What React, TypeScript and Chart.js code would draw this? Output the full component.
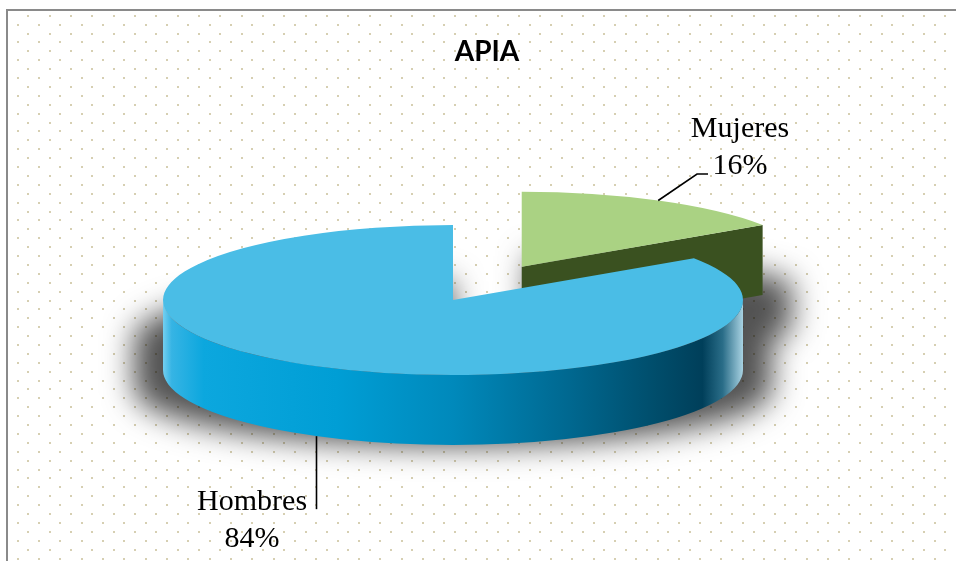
import { useEffect, useRef } from 'react';
import { Chart, registerables, PieController } from 'chart.js';

// ---- data ----
const categories = ['Mujeres', 'Hombres'];
const values = [15.6, 84.4];
const chartTitle = 'APIA';

// ---- styles ----
const topColors = ['#aad283', '#4abde6'];
const faceColors = ['#3a5120', '#00577a'];
const bandStops: [number, string][][] = [
  [[0, '#5b7a35'], [1, '#2e421a']],
  [
    [0, '#74cff0'], [0.015, '#36b4e4'], [0.07, '#0ca7de'], [0.3, '#009ed5'],
    [0.5, '#0089bb'], [0.7, '#006890'], [0.85, '#004d6b'], [0.93, '#003f5a'],
    [0.965, '#2a6d88'], [1, '#a8d2e2'],
  ],
];
const explode = [146, 0];
const SQUASH = 75 / 290;
const DEPTH = 70;

Chart.register(...registerables);

function getGeometry(chart: any) {
  const meta = chart.getDatasetMeta(0);
  const arcs = meta.data || [];
  return arcs.map((el: any, i: number) => {
    const a0 = el.startAngle, a1 = el.endAngle, mid = (a0 + a1) / 2;
    const rx = el.outerRadius, ry = rx * SQUASH;
    const e = explode[i] || 0;
    return {
      el, i, a0, a1, mid, rx, ry, cx: el.x, cy: el.y,
      ox: el.x + e * Math.cos(mid), oy: el.y + e * SQUASH * Math.sin(mid),
    };
  });
}

class Pie3DController extends PieController {
  static id = 'pie3d';
  draw() {
    const chart: any = this.chart;
    const ctx: CanvasRenderingContext2D = chart.ctx;
    const geo = getGeometry(chart);
    if (!geo.length) return;
    const c0 = geo[0];

    // soft shadow of the whole body
    ctx.save();
    const FAR = 4000;
    const anchorY = c0.cy + c0.ry + DEPTH + 5;
    ctx.translate(FAR, 0);
    ctx.translate(c0.cx, anchorY);
    ctx.scale(1.1, 0.75);
    ctx.translate(-c0.cx, -anchorY);
    ctx.beginPath();
    for (const g of geo) {
      for (let d = 0; d <= DEPTH; d += 2) {
        ctx.moveTo(g.ox, g.oy + d);
        ctx.ellipse(g.ox, g.oy + d, g.rx, g.ry, 0, g.a0, g.a1, false);
        ctx.closePath();
      }
    }
    ctx.shadowColor = 'rgba(0,0,0,0.68)';
    ctx.shadowBlur = 30;
    ctx.shadowOffsetX = -FAR;
    ctx.shadowOffsetY = 0;
    ctx.fillStyle = '#000';
    ctx.fill();
    ctx.restore();

    const order = [...geo].sort((p: any, q: any) => p.oy - q.oy);
    for (const g of order) {
      const faces: number[] = [];
      if (Math.cos(g.a1) > 1e-6) faces.push(g.a1);
      if (Math.cos(g.a0) < -1e-6) faces.push(g.a0);
      for (const a of faces) {
        const px = g.ox + g.rx * Math.cos(a), py = g.oy + g.ry * Math.sin(a);
        ctx.beginPath();
        ctx.moveTo(g.ox, g.oy);
        ctx.lineTo(px, py);
        ctx.lineTo(px, py + DEPTH);
        ctx.lineTo(g.ox, g.oy + DEPTH);
        ctx.closePath();
        ctx.fillStyle = faceColors[g.i];
        ctx.fill();
      }
      const lo = Math.max(g.a0, 0), hi = Math.min(g.a1, Math.PI);
      if (hi > lo) {
        ctx.beginPath();
        ctx.ellipse(g.ox, g.oy, g.rx, g.ry, 0, lo, hi, false);
        ctx.ellipse(g.ox, g.oy + DEPTH, g.rx, g.ry, 0, hi, lo, true);
        ctx.closePath();
        const grad = ctx.createLinearGradient(g.ox - g.rx, 0, g.ox + g.rx, 0);
        for (const [t, c] of bandStops[g.i]) grad.addColorStop(t, c);
        ctx.fillStyle = grad;
        ctx.fill();
      }
      ctx.save();
      ctx.translate(g.ox, g.oy);
      ctx.scale(1, SQUASH);
      ctx.translate(-g.cx, -g.cy);
      g.el.draw(ctx, chart.chartArea);
      ctx.restore();
    }
  }
}
Chart.register(Pie3DController as any);

const backgroundPlugin = {
  id: 'bg3d',
  beforeDraw(chart: any) {
    const ctx: CanvasRenderingContext2D = chart.ctx;
    const w = chart.width, h = chart.height;
    ctx.save();
    ctx.fillStyle = '#ffffff';
    ctx.fillRect(0, 0, w, h);
    ctx.fillStyle = '#d6cfb2';
    const DX = 21.33, DY = 8.9;
    let row = 0;
    for (let y = 15.7; y < h; y += DY, row++) {
      const x0 = row % 2 === 0 ? 28.3 : 17.6;
      for (let x = x0; x < w; x += DX) {
        ctx.fillRect(Math.round(x) - 1, Math.round(y) - 1, 2, 2);
      }
    }
    ctx.strokeStyle = '#8a8a8a';
    ctx.lineWidth = 2;
    ctx.beginPath();
    ctx.moveTo(7, h + 5);
    ctx.lineTo(7, 10);
    ctx.lineTo(w + 5, 10);
    ctx.stroke();
    ctx.restore();
  },
};

const leaderStyles = [
  { path: [[0, 0], [38.8, -26.5], [49.8, -26.5]], text: [81.8, -63.5] },
  { path: [[0, 0], [0, 73]], text: [-64.4, 73.7] },
];

const labelPlugin = {
  id: 'labels3d',
  afterDatasetsDraw(chart: any) {
    const ctx: CanvasRenderingContext2D = chart.ctx;
    const geo = getGeometry(chart);
    const total = values.reduce((a, b) => a + b, 0);
    ctx.save();
    ctx.strokeStyle = '#000';
    ctx.lineWidth = 1.6;
    ctx.fillStyle = '#000';
    ctx.font = '30px "Liberation Serif", "Times New Roman", serif';
    ctx.textAlign = 'center';
    ctx.textBaseline = 'alphabetic';
    for (const g of geo) {
      const pct = Math.round((values[g.i] / total) * 100) + '%';
      const front = Math.sin(g.mid) > 0;
      const sx = g.ox + g.rx * Math.cos(g.mid);
      const sy = g.oy + g.ry * Math.sin(g.mid) + (front ? DEPTH : 0);
      const L = leaderStyles[g.i];
      ctx.beginPath();
      L.path.forEach(([dx, dy], k) => {
        if (k === 0) ctx.moveTo(sx + dx, sy + dy);
        else ctx.lineTo(sx + dx, sy + dy);
      });
      ctx.stroke();
      const tx = sx + L.text[0], ty = sy + L.text[1];
      ctx.fillText(categories[g.i], tx, ty);
      ctx.fillText(pct, tx, ty + 37);
    }
    ctx.font = 'bold 28px Lato, "Liberation Sans", sans-serif';
    ctx.fillText(chartTitle, 487, 61);
    ctx.restore();
  },
};

export default function App() {
  const ref = useRef<HTMLCanvasElement | null>(null);
  useEffect(() => {
    if (!ref.current) return;
    document.documentElement.style.overflow = 'hidden';
    document.body.style.overflow = 'hidden';
    document.body.style.background = '#ffffff';
    const chart = new Chart(ref.current, {
      type: 'pie3d' as any,
      data: {
        labels: categories,
        datasets: [
          {
            data: values,
            backgroundColor: topColors,
            borderWidth: 0,
            clip: false as any,
          },
        ],
      },
      options: {
        responsive: false,
        animation: false,
        events: [],
        radius: 290,
        layout: { padding: { left: 0, right: 50, top: 39, bottom: 0 } },
        plugins: {
          legend: { display: false },
          tooltip: { enabled: false },
          title: { display: false },
        },
      } as any,
      plugins: [backgroundPlugin, labelPlugin],
    });
    return () => chart.destroy();
  }, []);
  return (
    <div style={{ position: 'fixed', left: 0, top: 0, width: 956, height: 561, overflow: 'hidden', background: '#fff' }}>
      <canvas ref={ref} width={956} height={561} style={{ display: 'block', width: 956, height: 561 }} />
    </div>
  );
}
